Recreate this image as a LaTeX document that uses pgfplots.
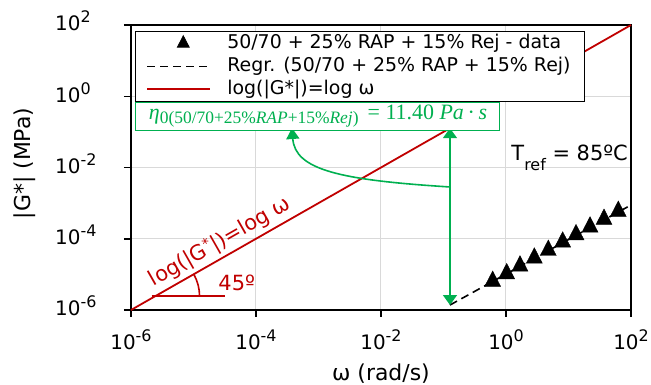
\documentclass[border=0pt]{standalone}
\usepackage{fontspec}
\setmainfont{DejaVu Sans}
\newfontfamily\eqfont{Liberation Serif}
\usepackage{pgfplots}
\pgfplotsset{compat=1.18}
\usetikzlibrary{calc,arrows.meta}
\definecolor{xred}{HTML}{C00000}
\definecolor{xgreen}{HTML}{00B050}
\definecolor{xgrid}{HTML}{D9D9D9}
\newcommand{\tl}[1]{10\raisebox{8bp}{\fontsize{16}{16}\selectfont #1}}
\pgfplotsset{
  legmark/.style={legend image code/.code={\path[draw=none] (0bp,0bp) -- (77bp,0bp); \path[##1, draw=none, mark size=6.8bp] plot coordinates {(36bp,0bp)};}},
  legline/.style={legend image code/.code={\path[draw=none] (0bp,0bp) -- (77bp,0bp); \draw[##1] (0bp,0bp) -- (63bp,0bp);}},
}
\begin{document}
\begin{tikzpicture}
\begin{axis}[
  name=ax,
  xmode=log, ymode=log,
  scale only axis, width=500bp, height=285bp,
  xmin=1e-6, xmax=1e2, ymin=1e-6, ymax=1e2,
  xtick={1e-6,1e-4,1e-2,1,1e2},
  ytick={1e-6,1e-4,1e-2,1,1e2},
  xticklabels={\tl{-6},\tl{-4},\tl{-2},\tl{0},\tl{2}},
  yticklabels={\tl{-6},\tl{-4},\tl{-2},\tl{0},\tl{2}},
  xminorticks=false, yminorticks=false,
  tick pos=left, tick align=outside,
  major tick length=7bp,
  every tick/.style={black, line width=1.5bp},
  grid=major,
  major grid style={xgrid, line width=1bp},
  axis line style={line width=1.6bp},
  ticklabel style={font=\fontsize{20}{24}\selectfont, inner sep=0pt},
  xticklabel style={anchor=base, yshift=-33bp},
  yticklabel style={anchor=base west, xshift=-69bp, yshift=-5.8bp},
  xlabel={ω (rad/s)}, ylabel={|G*| (MPa)},
  label style={font=\fontsize{22}{26}\selectfont},
  xlabel style={at={(0.5,-0.2246)}, anchor=center},
  ylabel style={at={(-0.212,0.514)}, anchor=center},
  clip=false,
  legend cell align=left,
  legend style={at={(0.008,0.979)}, anchor=north west, draw=black, line width=0.8bp,
    fill=white, font=\fontsize{19}{22}\selectfont, inner xsep=11bp, inner ysep=0.5bp,
    nodes={inner sep=3bp, text height=13.5bp, text depth=3.5bp}},
]
\addplot[only marks, mark=triangle*, mark size=9.2bp, black, mark options={yscale=1.12}, legmark]
  coordinates {(0.612,6.40e-6) (1.026,1.045e-5) (1.675,1.72e-5) (2.84,2.88e-5) (4.75,4.74e-5)
               (8.07,8.11e-5) (13.2,1.30e-4) (22.1,2.14e-4) (37.0,3.52e-4) (62.6,5.90e-4)};
\addlegendentry{50/70 + 25\% RAP + 15\% Rej - data}
\addplot[black, dash pattern=on 8bp off 5bp, line width=1.6bp, legline]
  coordinates {(0.127,1.38e-6) (100,8.85e-4)};
\addlegendentry{Regr. (50/70 + 25\% RAP + 15\% Rej)}
\addplot[xred, line width=1.8bp, legline]
  coordinates {(1e-6,1e-6) (1e2,1e2)};
\addlegendentry{log(|G*|)=log ω}

% green annotations
\draw[xgreen, line width=1.6bp, {Triangle[length=10bp,width=14bp]}-{Triangle[length=10bp,width=14bp]}]
  (axis cs:0.127,0.127) -- (axis cs:0.127,1.38e-6);
\draw[xgreen, line width=1.6bp, -{Triangle[length=11bp,width=13bp]}]
  (axis cs:0.127,2.84e-3) .. controls (axis cs:2.21e-3,4.46e-3) and (axis cs:4.21e-4,8.51e-3) .. (axis cs:3.77e-4,0.1285);
\node[draw=xgreen, fill=white, line width=1bp, inner sep=0bp, minimum width=364bp, minimum height=28bp,
  text=xgreen, anchor=center, font=\eqfont\fontsize{22}{24}\selectfont] at (rel axis cs:0.374,0.6807)
  {\textit{η}\raisebox{-4bp}{\fontsize{17.5}{17.5}\selectfont 0(50/70+25\%\textit{RAP}+15\%\textit{Rej})}\, = 11.40 \textit{Pa}\,·\,\textit{s}};

% red annotations
\node[xred, rotate=29.68, font=\fontsize{21}{25}\selectfont] at (axis cs:2.655e-5,8.26e-5)
  {log(|G\raisebox{7bp}{\fontsize{14}{14}\selectfont *}|)=log ω};
\draw[xred, line width=1.6bp] (axis cs:2.14e-6,2.47e-6) -- (axis cs:3.19e-5,2.47e-6);
\draw[xred, line width=1.6bp] (axis cs:2.47e-6,2.47e-6) ++(0:44bp) arc[start angle=0, end angle=29.68, radius=44bp];
\node[xred, font=\fontsize{21}{25}\selectfont] at (axis cs:4.91e-5,5.91e-6) {45º};

% T ref
\node[anchor=base east, inner sep=0pt, font=\fontsize{21}{25}\selectfont] at (rel axis cs:0.994,0.5263)
  {T\raisebox{-10bp}{\fontsize{16}{16}\selectfont ref} = 85ºC};
\end{axis}
\pgfresetboundingbox
\path[use as bounding box] ($(ax.south west)+(-131bp,-75bp)$) rectangle ($(ax.north east)+(20bp,25bp)$);
\end{tikzpicture}
\end{document}
